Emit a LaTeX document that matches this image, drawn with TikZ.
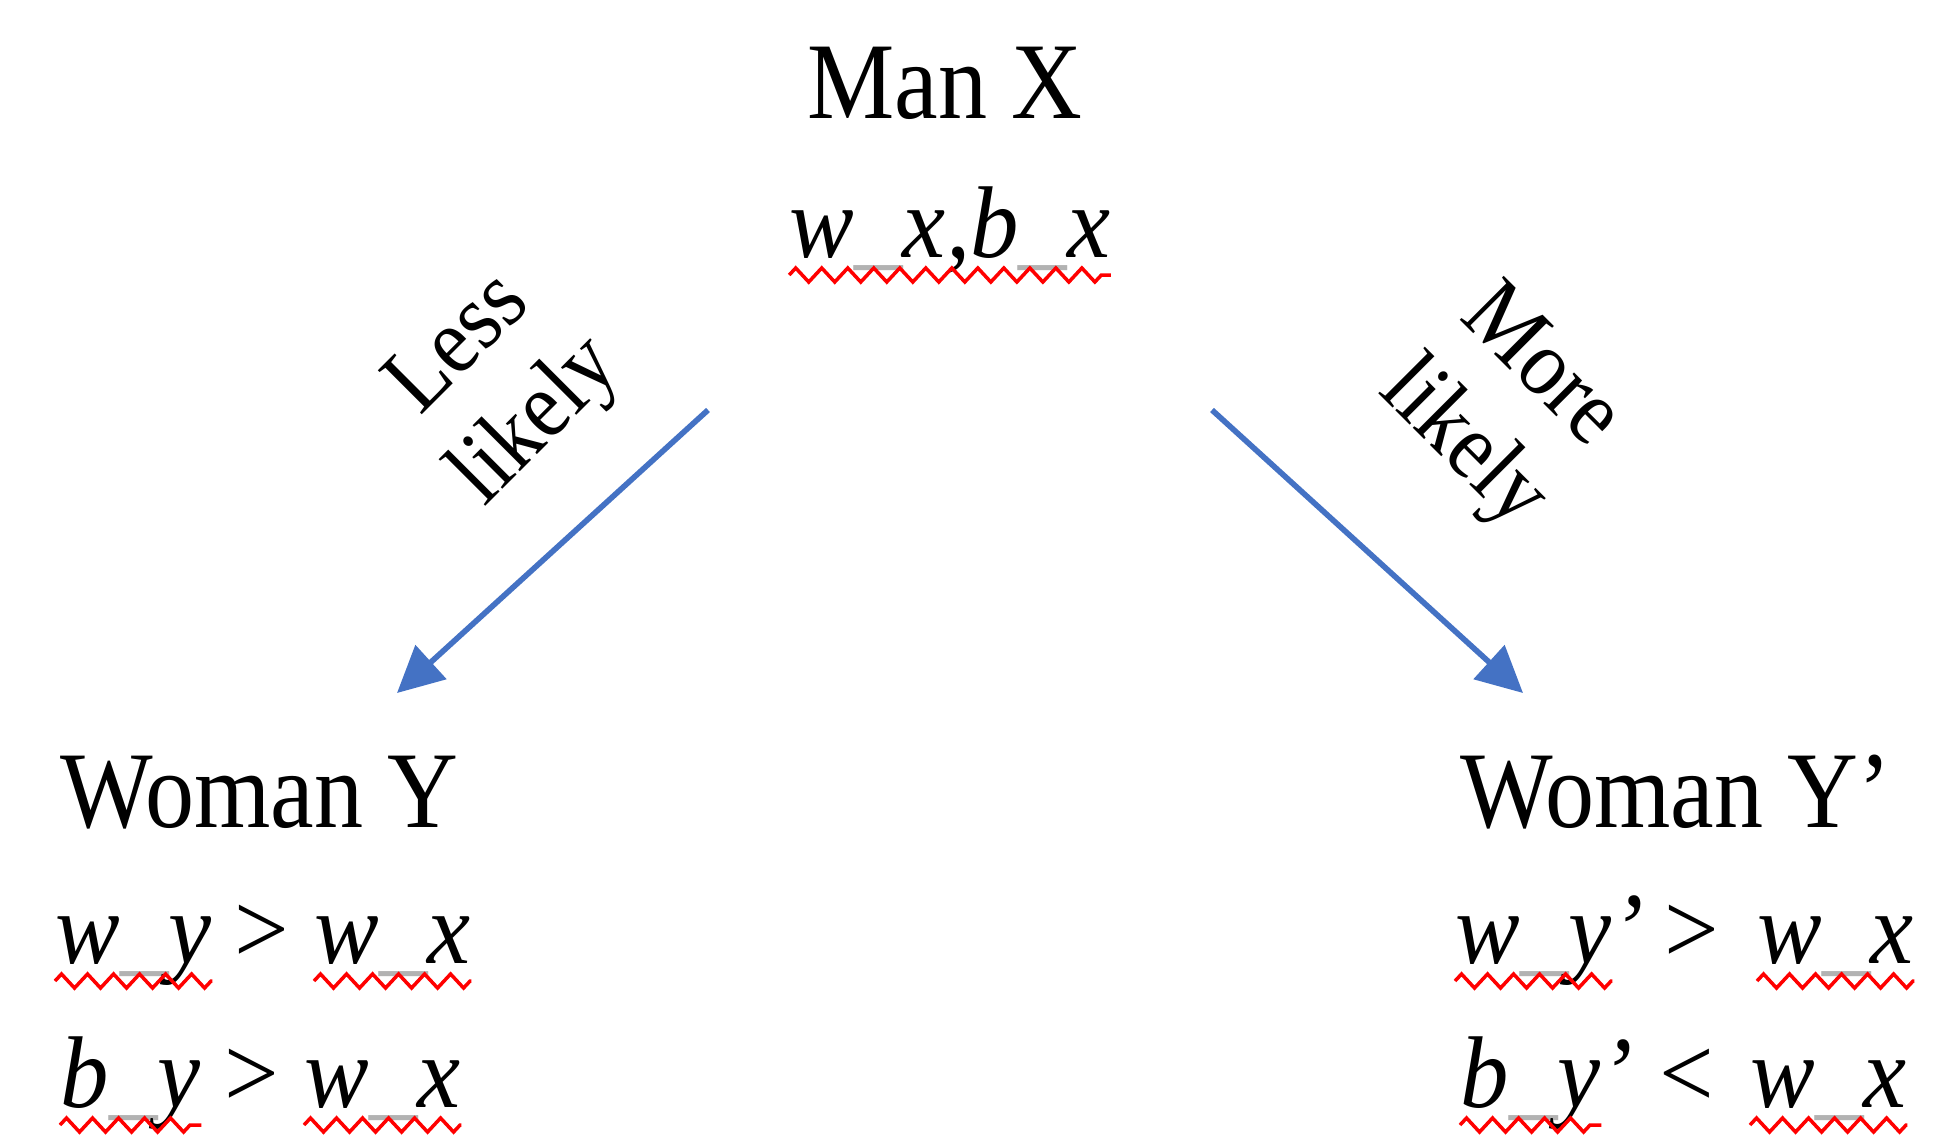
\documentclass[tikz,border=0pt]{standalone}
\usepackage{fontspec}
\setmainfont{Liberation Serif}[FakeStretch=0.9]
\newfontfamily\eqfont{Liberation Serif}[FakeStretch=0.95]
\usetikzlibrary{arrows.meta,decorations.pathmorphing}

\definecolor{c4blue}{RGB}{68,114,196}
\newcommand{\us}{{\color{black!30}\_}}

\tikzset{
  title/.style={font=\fontsize{31}{37}\selectfont, inner sep=0pt},
  eqn/.style={font=\eqfont\fontsize{29}{35}\selectfont\itshape, inner sep=0pt},
  rel/.style={font=\eqfont\fontsize{29}{35}\selectfont, inner sep=0pt},
  likely/.style={font=\fontsize{27}{31}\selectfont, align=center, inner sep=0pt},
  pick/.style={-{Triangle[length=0.46cm, width=0.45cm]}, c4blue, line width=1.6pt},
  squiggle/.style={red, line width=1pt, decorate,
    decoration={zigzag, segment length=0.26cm, amplitude=0.07cm}}
}

\begin{document}
\begin{tikzpicture}[x=0.01cm, y=-0.01cm]
\useasboundingbox (0,0) rectangle (1957,1136);
%% ---- Man X ----
\node[title, anchor=base] (manx) at (945,118) {Man X};
\node[eqn, anchor=base] (wxbx) at (950,257) {w\us x,b\us x};
%% ---- Woman Y ----
\node[title, anchor=base west] (womany) at (60,827) {Woman Y};
\node[eqn, anchor=base west] (wy)  at (55,963)   {w\us y};
\node[rel, anchor=base west] (gta) at (234,963)  {>};
\node[eqn, anchor=base west] (wxa) at (314,963)  {w\us x};
\node[eqn, anchor=base west] (by)  at (60,1107)  {b\us y};
\node[rel, anchor=base west] (gtb) at (224,1107) {>};
\node[eqn, anchor=base west] (wxb) at (304,1107) {w\us x};
%% ---- Woman Y' ----
\node[title, anchor=base west] (womanyp) at (1460,827) {Woman Y’};
\node[eqn, anchor=base west] (wyp) at (1455,963)  {w\us y\rlap{’}};
\node[rel, anchor=base west] (gtc) at (1664,963)  {>};
\node[eqn, anchor=base west] (wxc) at (1757,963)  {w\us x};
\node[eqn, anchor=base west] (byp) at (1460,1107) {b\us y\rlap{’}};
\node[rel, anchor=base west] (ltd) at (1659,1107) {<};
\node[eqn, anchor=base west] (wxd) at (1750,1107) {w\us x};
%% spell-check marks
\foreach \w in {wxbx,wy,wxa,by,wxb,wyp,wxc,byp,wxd}
  \draw[squiggle] ([yshift=-0.18cm]\w.base west) -- ([yshift=-0.18cm]\w.base east);
%% ---- arrows ----
\coordinate (lessfrom) at (708,410);
\coordinate (lessto)   at (397,693);
\coordinate (morefrom) at (1212,410);
\coordinate (moreto)   at (1523,693);
\draw[pick] (lessfrom) -- (lessto);
\draw[pick] (morefrom) -- (moreto);
\node[likely, rotate=45]  (less) at (500,385)  {Less\\likely};
\node[likely, rotate=-45] (more) at (1500,408) {More\\likely};
\end{tikzpicture}
\end{document}
